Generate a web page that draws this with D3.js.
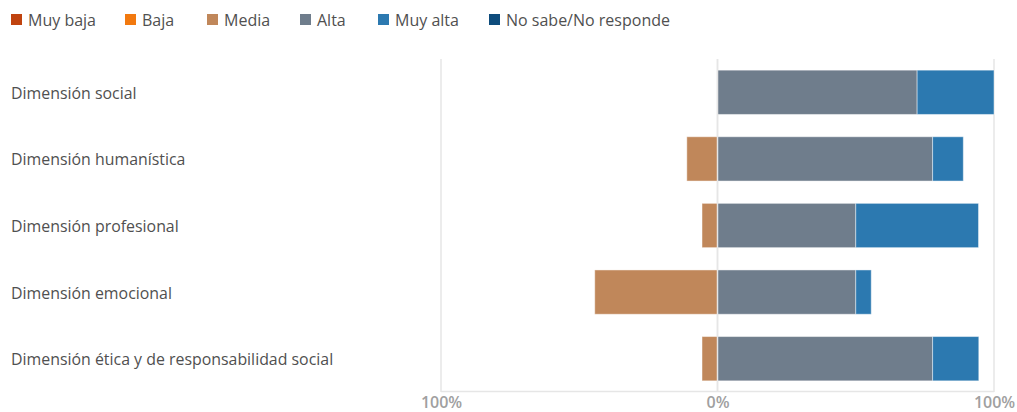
<!DOCTYPE html>
<html>
<head>
<meta charset="utf-8">
<script src="https://cdn.jsdelivr.net/npm/d3@7"></script>
<style>
  html, body { margin: 0; padding: 0; background: #fff; }
  svg { display: block; font-family: "Open Sans", "Noto Sans", sans-serif; }
</style>
</head>
<body>
<svg id="chart" width="1017" height="412"></svg>
<script>
// Rating levels, in legend order
const levels = ["Muy baja", "Baja", "Media", "Alta", "Muy alta", "No sabe/No responde"];
const levelColors = ["#c0430f", "#f2790f", "#c0875a", "#6f7d8c", "#2c79b0", "#0e4c7c"];

// Dimensions assessed
const categories = [
  "Dimensión social",
  "Dimensión humanística",
  "Dimensión profesional",
  "Dimensión emocional",
  "Dimensión ética y de responsabilidad social"
];

// Percentage of answers per level for each dimension
const muyBaja = [0, 0, 0, 0, 0];
const baja    = [0, 0, 0, 0, 0];
const media   = [0, 11.1, 5.6, 44.4, 5.6];
const alta    = [72.2, 77.8, 50.0, 50.0, 77.8];
const muyAlta = [27.8, 11.1, 44.4, 5.6, 16.7];
const nsnr    = [0, 0, 0, 0, 0];

// Axis tick values and their labels
const tickValues = [-100, 0, 100];
const tickLabels = ["100%", "0%", "100%"];

const series = [muyBaja, baja, media, alta, muyAlta, nsnr];
// Levels below "Alta" extend to the left of zero
const negativeLevels = [0, 1, 2];
const positiveLevels = [3, 4, 5];

const svg = d3.select("#chart");

const x = d3.scaleLinear().domain([-100, 100]).range([441, 994]);
const y = d3.scaleBand().domain(categories).range([59, 392]).paddingInner(0.335).paddingOuter(0.1675);

// Gridlines
const grid = svg.append("g");
grid.selectAll("line.v").data(tickValues).join("line")
  .attr("x1", d => x(d)).attr("x2", d => x(d))
  .attr("y1", 59).attr("y2", 392)
  .attr("stroke", "#e6e6e6").attr("stroke-width", 1.5);
grid.append("line")
  .attr("x1", x(-100)).attr("x2", x(100))
  .attr("y1", 391.5).attr("y2", 391.5)
  .attr("stroke", "#e6e6e6").attr("stroke-width", 1.5);

// Build segments: negatives stacked outward from zero, positives outward to the right
const segments = [];
categories.forEach((cat, i) => {
  let left = 0;
  negativeLevels.slice().reverse().forEach(li => {
    const v = series[li][i];
    if (v > 0) {
      segments.push({ cat, level: li, x0: -(left + v), x1: -left });
    }
    left += v;
  });
  let right = 0;
  positiveLevels.forEach(li => {
    const v = series[li][i];
    if (v > 0) {
      segments.push({ cat, level: li, x0: right, x1: right + v });
    }
    right += v;
  });
});

svg.append("g").selectAll("rect").data(segments).join("rect")
  .attr("x", d => x(d.x0))
  .attr("width", d => x(d.x1) - x(d.x0))
  .attr("y", d => y(d.cat))
  .attr("height", y.bandwidth())
  .attr("fill", d => levelColors[d.level])
  .attr("stroke", "rgba(255,255,255,0.45)")
  .attr("stroke-width", 1);

// Zero line on top of bars
svg.append("line")
  .attr("x1", x(0)).attr("x2", x(0))
  .attr("y1", 59).attr("y2", 392)
  .attr("stroke", "#e6e6e6").attr("stroke-width", 1.5);

// Category labels
svg.append("g").selectAll("text").data(categories).join("text")
  .attr("x", 11)
  .attr("y", d => y(d) + y.bandwidth() / 2 + 1)
  .attr("dy", "0.35em")
  .attr("font-size", 15.9)
  .attr("fill", "#505050")
  .text(d => d);

// Bottom axis labels
const xAxis = d3.axisBottom(x).tickValues(tickValues).tickFormat((d, i) => tickLabels[i]).tickSize(0).tickPadding(0);
const ax = svg.append("g").attr("transform", "translate(0,397)").call(xAxis);
ax.select(".domain").remove();
ax.selectAll("text")
  .attr("font-size", 16)
  .attr("font-weight", 600)
  .attr("fill", "#a0a0a0")
  .attr("font-family", "\"Open Sans\", sans-serif");

// Legend
const legendX = [11, 125, 207, 300, 378, 489];
const legend = svg.append("g").selectAll("g").data(levels).join("g")
  .attr("transform", (d, i) => `translate(${legendX[i]},14)`);
legend.append("rect").attr("width", 11).attr("height", 11)
  .attr("fill", (d, i) => levelColors[i]);
legend.append("text").attr("x", 17).attr("y", 6.5).attr("dy", "0.35em")
  .attr("font-size", 16).attr("fill", "#505050")
  .text(d => d);
</script>
</body>
</html>
